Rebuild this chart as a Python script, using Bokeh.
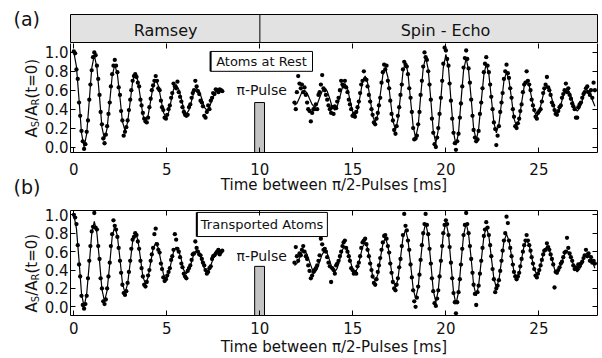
from bokeh.plotting import figure
from bokeh.models import Range1d, LinearAxis, Span, FixedTicker, PrintfTickFormatter
from bokeh.layouts import column, row
from bokeh.embed import file_html
from bokeh.resources import INLINE
from bokeh.core.properties import value

# ---------------------------------------------------------------- data
x_ticks = [0, 5, 10, 15, 20, 25]
y_ticks = [0.0, 0.2, 0.4, 0.6, 0.8, 1.0]
section_names = ["Ramsey", "Spin - Echo"]
section_centers = [4.93, 19.98]
section_split = 10.0
pulse_time = [9.72, 10.25]
pulse_height_a = 0.47
pulse_height_b = 0.44

# measurement times [ms]
ramsey_t = [
    0.00, 0.07, 0.14, 0.21, 0.28, 0.34, 0.41, 0.48, 0.55, 0.62, 0.69, 0.76, 0.83, 0.89, 0.96, 1.03,
    1.10, 1.17, 1.24, 1.31, 1.38, 1.44, 1.51, 1.58, 1.65, 1.72, 1.79, 1.86, 1.93, 1.99, 2.06, 2.13,
    2.20, 2.27, 2.34, 2.41, 2.48, 2.54, 2.61, 2.68, 2.75, 2.82, 2.89, 2.96, 3.03, 3.09, 3.16, 3.23,
    3.30, 3.37, 3.44, 3.51, 3.58, 3.64, 3.71, 3.78, 3.85, 3.92, 3.99, 4.06, 4.13, 4.19, 4.26, 4.33,
    4.40, 4.47, 4.54, 4.61, 4.68, 4.74, 4.81, 4.88, 4.95, 5.02, 5.09, 5.16, 5.23, 5.29, 5.36, 5.43,
    5.50, 5.57, 5.64, 5.71, 5.78, 5.84, 5.91, 5.98, 6.05, 6.12, 6.19, 6.26, 6.33, 6.39, 6.46, 6.53,
    6.60, 6.67, 6.74, 6.81, 6.88, 6.94, 7.01, 7.08, 7.15, 7.22, 7.29, 7.36, 7.43, 7.49, 7.56, 7.63,
    7.70, 7.77, 7.84, 7.91, 7.98]

echo_t = [
    11.86, 11.93, 11.99, 12.06, 12.13, 12.20, 12.26, 12.33, 12.40, 12.47, 12.54, 12.60, 12.67, 12.74, 12.81, 12.88,
    12.94, 13.01, 13.08, 13.15, 13.21, 13.28, 13.35, 13.42, 13.49, 13.55, 13.62, 13.69, 13.76, 13.83, 13.89, 13.96,
    14.03, 14.10, 14.16, 14.23, 14.30, 14.37, 14.44, 14.50, 14.57, 14.64, 14.71, 14.78, 14.84, 14.91, 14.98, 15.05,
    15.11, 15.18, 15.25, 15.32, 15.39, 15.45, 15.52, 15.59, 15.66, 15.73, 15.79, 15.86, 15.93, 16.00, 16.06, 16.13,
    16.20, 16.27, 16.34, 16.40, 16.47, 16.54, 16.61, 16.68, 16.74, 16.81, 16.88, 16.95, 17.01, 17.08, 17.15, 17.22,
    17.29, 17.35, 17.42, 17.49, 17.56, 17.63, 17.69, 17.76, 17.83, 17.90, 17.96, 18.03, 18.10, 18.17, 18.24, 18.30,
    18.37, 18.44, 18.51, 18.58, 18.64, 18.71, 18.78, 18.85, 18.91, 18.98, 19.05, 19.12, 19.19, 19.25, 19.32, 19.39,
    19.46, 19.53, 19.59, 19.66, 19.73, 19.80, 19.86, 19.93, 20.00, 20.07, 20.14, 20.20, 20.27, 20.34, 20.41, 20.48,
    20.54, 20.61, 20.68, 20.75, 20.81, 20.88, 20.95, 21.02, 21.09, 21.15, 21.22, 21.29, 21.36, 21.43, 21.49, 21.56,
    21.63, 21.70, 21.76, 21.83, 21.90, 21.97, 22.04, 22.10, 22.17, 22.24, 22.31, 22.38, 22.44, 22.51, 22.58, 22.65,
    22.71, 22.78, 22.85, 22.92, 22.99, 23.05, 23.12, 23.19, 23.26, 23.33, 23.39, 23.46, 23.53, 23.60, 23.66, 23.73,
    23.80, 23.87, 23.94, 24.00, 24.07, 24.14, 24.21, 24.28, 24.34, 24.41, 24.48, 24.55, 24.61, 24.68, 24.75, 24.82,
    24.89, 24.95, 25.02, 25.09, 25.16, 25.23, 25.29, 25.36, 25.43, 25.50, 25.56, 25.63, 25.70, 25.77, 25.84, 25.90,
    25.97, 26.04, 26.11, 26.18, 26.24, 26.31, 26.38, 26.45, 26.51, 26.58, 26.65, 26.72, 26.79, 26.85, 26.92, 26.99,
    27.06, 27.12, 27.19, 27.26, 27.33, 27.40, 27.46, 27.53, 27.60, 27.67, 27.74, 27.80, 27.87, 27.94, 28.01]

# fitted curves are given at every second measurement time
ramsey_fit_t = ramsey_t[::2]
echo_fit_t = echo_t[::2]

# (a) atoms at rest
a_ramsey_dots = [
    1.01, 0.99, 0.82, 0.72, 0.47, 0.33, 0.17, 0.06, -0.02, 0.03, 0.16, 0.28, 0.50, 0.66, 0.81, 0.95,
    1.00, 0.97, 0.86, 0.72, 0.55, 0.37, 0.24, 0.09, 0.04, 0.13, 0.22, 0.35, 0.47, 0.64, 0.77, 0.86,
    0.92, 0.86, 0.79, 0.63, 0.55, 0.38, 0.28, 0.12, 0.16, 0.21, 0.28, 0.39, 0.50, 0.60, 0.70, 0.75,
    0.77, 0.74, 0.68, 0.64, 0.50, 0.44, 0.36, 0.30, 0.27, 0.26, 0.31, 0.42, 0.51, 0.60, 0.65, 0.70,
    0.75, 0.70, 0.62, 0.60, 0.49, 0.42, 0.39, 0.31, 0.30, 0.34, 0.40, 0.44, 0.52, 0.57, 0.67, 0.64,
    0.62, 0.69, 0.58, 0.53, 0.48, 0.42, 0.37, 0.34, 0.33, 0.34, 0.42, 0.45, 0.52, 0.57, 0.60, 0.70,
    0.64, 0.59, 0.56, 0.49, 0.47, 0.43, 0.33, 0.31, 0.37, 0.44, 0.40, 0.49, 0.52, 0.57, 0.56, 0.61,
    0.60, 0.58, 0.61, 0.60, 0.59]

a_ramsey_fit = [
    1.00, 0.85, 0.50, 0.15, 0.00, 0.14, 0.49, 0.83,
    0.97, 0.84, 0.53, 0.21, 0.08, 0.20, 0.48, 0.75,
    0.87, 0.77, 0.52, 0.27, 0.17, 0.26, 0.48, 0.69,
    0.78, 0.70, 0.52, 0.34, 0.26, 0.33, 0.49, 0.64,
    0.71, 0.65, 0.51, 0.37, 0.31, 0.36, 0.49, 0.61,
    0.66, 0.61, 0.51, 0.40, 0.35, 0.39, 0.49, 0.58,
    0.62, 0.59, 0.51, 0.42, 0.39, 0.42, 0.50, 0.57,
    0.60, 0.59, 0.58]

a_echo_dots = [
    0.47, 0.40, 0.58, 0.75, 0.67, 0.62, 0.66, 0.58, 0.63, 0.55, 0.47, 0.40, 0.38, 0.27, 0.36, 0.40,
    0.40, 0.45, 0.40, 0.55, 0.58, 0.66, 0.76, 0.62, 0.60, 0.55, 0.50, 0.44, 0.40, 0.36, 0.42, 0.35,
    0.43, 0.41, 0.48, 0.52, 0.60, 0.70, 0.66, 0.64, 0.70, 0.63, 0.58, 0.50, 0.45, 0.40, 0.33, 0.35,
    0.32, 0.37, 0.42, 0.48, 0.57, 0.66, 0.70, 0.80, 0.72, 0.71, 0.64, 0.55, 0.48, 0.40, 0.34, 0.26,
    0.24, 0.30, 0.36, 0.44, 0.52, 0.68, 0.79, 0.87, 0.82, 0.86, 0.70, 0.62, 0.49, 0.35, 0.28, 0.18,
    0.14, 0.22, 0.33, 0.42, 0.55, 0.66, 0.82, 0.90, 0.87, 0.85, 0.77, 0.62, 0.52, 0.37, 0.20, 0.08,
    0.09, 0.12, 0.24, 0.37, 0.55, 0.70, 0.85, 1.00, 0.95, 0.92, 0.80, 0.66, 0.50, 0.30, 0.15, 0.03,
    0.00, 0.10, 0.20, 0.35, 0.52, 0.70, 0.88, 1.05, 1.02, 0.93, 0.86, 0.67, 0.49, 0.30, 0.15, 0.04,
    -0.03, 0.06, 0.14, 0.31, 0.46, 0.64, 0.84, 0.94, 1.02, 0.93, 0.83, 0.68, 0.50, 0.33, 0.18, 0.10,
    0.06, 0.08, 0.17, 0.35, 0.47, 0.62, 0.79, 0.88, 0.95, 0.86, 0.79, 0.66, 0.53, 0.40, 0.26, 0.19,
    0.02, 0.12, 0.22, 0.37, 0.47, 0.57, 0.72, 0.80, 0.87, 0.78, 0.73, 0.62, 0.52, 0.40, 0.32, 0.22,
    0.20, 0.25, 0.30, 0.38, 0.45, 0.58, 0.66, 0.68, 0.80, 0.70, 0.66, 0.60, 0.50, 0.44, 0.39, 0.32,
    0.30, 0.36, 0.38, 0.40, 0.48, 0.57, 0.62, 0.66, 0.74, 0.63, 0.60, 0.55, 0.47, 0.44, 0.39, 0.35,
    0.34, 0.38, 0.42, 0.44, 0.52, 0.56, 0.60, 0.67, 0.58, 0.62, 0.55, 0.51, 0.46, 0.43, 0.40, 0.31,
    0.31, 0.42, 0.45, 0.47, 0.52, 0.56, 0.58, 0.62, 0.64, 0.58, 0.55, 0.60, 0.52, 0.68, 0.60]

a_echo_fit = [
    0.44, 0.46, 0.52, 0.58, 0.60, 0.57, 0.51, 0.45,
    0.42, 0.45, 0.52, 0.59, 0.62, 0.59, 0.51, 0.42,
    0.39, 0.43, 0.53, 0.63, 0.67, 0.62, 0.50, 0.38,
    0.33, 0.39, 0.54, 0.69, 0.75, 0.68, 0.51, 0.33,
    0.26, 0.34, 0.55, 0.76, 0.84, 0.74, 0.51, 0.28,
    0.18, 0.29, 0.54, 0.79, 0.90, 0.78, 0.50, 0.22,
    0.10, 0.22, 0.53, 0.83, 0.95, 0.82, 0.50, 0.17,
    0.04, 0.18, 0.51, 0.84, 0.98, 0.84, 0.50, 0.16,
    0.02, 0.15, 0.48, 0.81, 0.94, 0.81, 0.51, 0.20,
    0.07, 0.19, 0.48, 0.76, 0.88, 0.77, 0.52, 0.26,
    0.15, 0.24, 0.47, 0.70, 0.79, 0.71, 0.51, 0.30,
    0.22, 0.29, 0.47, 0.64, 0.71, 0.65, 0.52, 0.38,
    0.32, 0.37, 0.49, 0.60, 0.65, 0.61, 0.51, 0.40,
    0.36, 0.40, 0.49, 0.58, 0.62, 0.58, 0.50, 0.42,
    0.38, 0.41, 0.49, 0.57, 0.60, 0.57, 0.50, 0.43]

# (b) transported atoms
b_ramsey_dots = [
    1.00, 0.97, 0.90, 0.67, 0.46, 0.33, 0.12, 0.02, -0.02, 0.03, 0.12, 0.31, 0.50, 0.66, 0.82, 0.87,
    1.02, 0.86, 0.84, 0.66, 0.52, 0.31, 0.20, 0.06, 0.03, 0.08, 0.20, 0.33, 0.48, 0.66, 0.79, 0.94,
    0.88, 0.84, 0.76, 0.64, 0.50, 0.37, 0.24, 0.15, 0.13, 0.17, 0.26, 0.38, 0.50, 0.63, 0.73, 0.76,
    0.80, 0.78, 0.71, 0.63, 0.50, 0.42, 0.33, 0.24, 0.22, 0.27, 0.34, 0.40, 0.50, 0.57, 0.64, 0.79,
    0.85, 0.68, 0.62, 0.59, 0.47, 0.41, 0.32, 0.28, 0.30, 0.34, 0.38, 0.42, 0.51, 0.55, 0.62, 0.79,
    0.73, 0.63, 0.60, 0.54, 0.47, 0.43, 0.36, 0.33, 0.31, 0.39, 0.42, 0.45, 0.51, 0.57, 0.58, 0.71,
    0.64, 0.60, 0.57, 0.56, 0.52, 0.48, 0.45, 0.40, 0.36, 0.38, 0.42, 0.44, 0.52, 0.55, 0.56, 0.58,
    0.60, 0.62, 0.57, 0.60, 0.61]

b_ramsey_fit = [
    1.00, 0.85, 0.50, 0.15, 0.00, 0.14, 0.47, 0.79,
    0.93, 0.80, 0.50, 0.19, 0.06, 0.18, 0.47, 0.76,
    0.88, 0.77, 0.52, 0.26, 0.15, 0.25, 0.48, 0.71,
    0.81, 0.73, 0.53, 0.33, 0.25, 0.32, 0.48, 0.63,
    0.70, 0.64, 0.50, 0.36, 0.30, 0.35, 0.48, 0.60,
    0.65, 0.61, 0.51, 0.40, 0.36, 0.40, 0.49, 0.58,
    0.62, 0.58, 0.50, 0.42, 0.38, 0.41, 0.49, 0.57,
    0.60, 0.59, 0.58]

b_echo_dots = [
    0.48, 0.65, 0.55, 0.50, 0.58, 0.56, 0.62, 0.66, 0.60, 0.55, 0.52, 0.45, 0.39, 0.31, 0.34, 0.38,
    0.40, 0.42, 0.45, 0.50, 0.56, 0.74, 0.68, 0.62, 0.63, 0.60, 0.54, 0.48, 0.44, 0.27, 0.42, 0.40,
    0.36, 0.45, 0.47, 0.50, 0.55, 0.60, 0.66, 0.70, 0.72, 0.64, 0.60, 0.55, 0.50, 0.42, 0.40, 0.36,
    0.38, 0.36, 0.44, 0.48, 0.55, 0.64, 0.70, 0.72, 0.74, 0.68, 0.62, 0.55, 0.47, 0.40, 0.33, 0.26,
    0.24, 0.30, 0.38, 0.45, 0.53, 0.62, 0.70, 0.77, 0.78, 0.74, 0.66, 0.59, 0.47, 0.37, 0.27, 0.20,
    0.18, 0.24, 0.31, 0.43, 0.52, 0.66, 0.78, 1.01, 0.88, 0.83, 0.72, 0.62, 0.46, 0.32, 0.18, 0.06,
    0.00, 0.10, 0.22, 0.35, 0.51, 0.67, 0.80, 0.90, 1.01, 0.89, 0.79, 0.63, 0.47, 0.31, 0.17, 0.04,
    0.01, 0.09, 0.18, 0.33, 0.50, 0.66, 0.80, 0.89, 0.94, 0.90, 0.78, 0.65, 0.48, 0.31, 0.15, 0.05,
    -0.07, 0.05, 0.16, 0.30, 0.46, 0.63, 0.78, 0.89, 1.02, 0.90, 0.80, 0.66, 0.52, 0.37, 0.24, 0.14,
    0.02, 0.16, 0.23, 0.36, 0.50, 0.64, 0.77, 0.84, 0.92, 0.86, 0.78, 0.67, 0.55, 0.41, 0.30, 0.16,
    0.20, 0.23, 0.29, 0.39, 0.50, 0.61, 0.72, 0.80, 0.98, 0.91, 0.72, 0.64, 0.55, 0.46, 0.38, 0.33,
    0.30, 0.33, 0.37, 0.44, 0.52, 0.60, 0.67, 0.72, 0.78, 0.72, 0.67, 0.61, 0.54, 0.47, 0.41, 0.34,
    0.32, 0.36, 0.40, 0.45, 0.51, 0.57, 0.61, 0.62, 0.69, 0.65, 0.62, 0.57, 0.52, 0.46, 0.21, 0.38,
    0.37, 0.40, 0.43, 0.47, 0.49, 0.54, 0.59, 0.60, 0.75, 0.64, 0.58, 0.54, 0.50, 0.45, 0.41, 0.43,
    0.41, 0.46, 0.44, 0.47, 0.49, 0.53, 0.56, 0.62, 0.55, 0.58, 0.50, 0.54, 0.48, 0.50, 0.47]

b_echo_fit = [
    0.45, 0.47, 0.53, 0.59, 0.61, 0.57, 0.49, 0.41,
    0.37, 0.41, 0.49, 0.57, 0.61, 0.58, 0.50, 0.41,
    0.38, 0.42, 0.52, 0.62, 0.66, 0.62, 0.52, 0.41,
    0.37, 0.42, 0.54, 0.65, 0.70, 0.64, 0.49, 0.34,
    0.28, 0.35, 0.52, 0.68, 0.75, 0.67, 0.48, 0.29,
    0.21, 0.30, 0.53, 0.75, 0.84, 0.73, 0.47, 0.20,
    0.09, 0.21, 0.50, 0.79, 0.91, 0.78, 0.48, 0.18,
    0.05, 0.18, 0.49, 0.79, 0.92, 0.79, 0.48, 0.16,
    0.03, 0.16, 0.47, 0.78, 0.91, 0.79, 0.52, 0.24,
    0.12, 0.23, 0.50, 0.76, 0.87, 0.77, 0.54, 0.31,
    0.21, 0.29, 0.50, 0.71, 0.79, 0.72, 0.55, 0.38,
    0.31, 0.37, 0.52, 0.67, 0.73, 0.67, 0.54, 0.41,
    0.35, 0.40, 0.51, 0.61, 0.66, 0.62, 0.52, 0.41,
    0.37, 0.41, 0.49, 0.57, 0.61, 0.58, 0.50, 0.41,
    0.38, 0.41, 0.49, 0.56, 0.59, 0.56, 0.49, 0.42]

assert len(ramsey_t) == len(a_ramsey_dots) == len(b_ramsey_dots) == 117
assert len(echo_t) == len(a_echo_dots) == len(b_echo_dots) == 239
assert len(ramsey_fit_t) == len(a_ramsey_fit) == len(b_ramsey_fit)
assert len(echo_fit_t) == len(a_echo_fit) == len(b_echo_fit)

# ---------------------------------------------------------------- style / layout
FONT = "DejaVu Sans"
INK = "#111111"
LW = 41            # width of the left label strip
MW = 561           # width of the plot column
PAGE_H = 358
LEFT = 29
RIGHT = 5
xr = Range1d(-0.18, 28.15)


def style_axis(ax, labels=True, standoff=3):
    ax.major_tick_in = 5
    ax.major_tick_out = 0
    ax.minor_tick_line_color = None
    ax.axis_line_color = "black"
    ax.major_tick_line_color = "black"
    if labels:
        ax.major_label_text_font = FONT
        ax.major_label_text_font_size = "15px"
        ax.major_label_text_color = INK
        ax.major_label_standoff = standoff
    else:
        ax.major_label_text_font_size = "0px"
        ax.major_label_text_color = None
        ax.major_label_standoff = 0


def panel(height, top, bottom, yr, tick_standoff, title_standoff, r_dots, r_fit, e_dots, e_fit,
          pulse_h, box, box_text, pulse_y, top_line):
    p = figure(width=MW, height=height, x_range=xr, y_range=yr, output_backend="svg",
               toolbar_location=None, min_border_left=LEFT, min_border_right=RIGHT,
               min_border_top=top, min_border_bottom=bottom)
    p.outline_line_color = None
    p.grid.visible = False
    p.background_fill_color = "white"
    p.border_fill_color = "white"
    p.xaxis.ticker = FixedTicker(ticks=x_ticks, minor_ticks=[])
    p.yaxis.ticker = FixedTicker(ticks=y_ticks, minor_ticks=[])
    p.yaxis.formatter = PrintfTickFormatter(format="%.1f")
    style_axis(p.xaxis[0], True, tick_standoff)
    style_axis(p.yaxis[0], True, 2)
    bx = p.xaxis[0]
    bx.axis_label = "Time between \u03c0/2-Pulses [ms]"
    bx.axis_label_text_font = FONT
    bx.axis_label_text_font_size = "15px"
    bx.axis_label_text_font_style = "normal"
    bx.axis_label_text_color = INK
    bx.axis_label_standoff = title_standoff

    tax = LinearAxis(ticker=FixedTicker(ticks=x_ticks, minor_ticks=[]))
    style_axis(tax, False)
    if not top_line:
        tax.axis_line_color = None
    p.add_layout(tax, "above")
    rax = LinearAxis(ticker=FixedTicker(ticks=y_ticks, minor_ticks=[]))
    style_axis(rax, False)
    p.add_layout(rax, "right")

    # pi pulse bar
    p.quad(left=[pulse_time[0]], right=[pulse_time[1]], bottom=[-0.3], top=[pulse_h],
           fill_color="#c3c3c3", line_color="black", line_width=1)
    p.text(x=[10.1], y=[pulse_y], text=["\u03c0-Pulse"], text_font=value(FONT),
           text_font_size="14px", text_align="center", text_baseline="middle", text_color=INK)

    # label box (slightly heavier left edge, as in the original)
    p.quad(left=[box[0]], right=[box[1]], bottom=[box[2]], top=[box[3]],
           fill_color="white", line_color="black", line_width=1)
    p.segment(x0=[box[0]], y0=[box[2]], x1=[box[0]], y1=[box[3]], line_color="black",
              line_width=2)
    p.text(x=[(box[0] + box[1]) / 2], y=[(box[2] + box[3]) / 2], text=[box_text],
           text_font=value(FONT), text_font_size="13px", text_align="center",
           text_baseline="middle", text_color=INK)

    # fits and data
    p.line(ramsey_fit_t, r_fit, line_color="black", line_width=1.2)
    p.line(echo_fit_t, e_fit, line_color="black", line_width=1.2)
    p.scatter(ramsey_t, r_dots, size=4.3, fill_color="black", line_color=None)
    p.scatter(echo_t, e_dots, size=4.3, fill_color="black", line_color=None)
    return p


# header row
h = figure(width=MW, height=43, x_range=xr, y_range=Range1d(0, 1), x_axis_type=None,
           y_axis_type=None, output_backend="svg", toolbar_location=None,
           min_border_left=LEFT, min_border_right=RIGHT, min_border_top=14, min_border_bottom=0)
h.background_fill_color = "#e2e2e2"
h.border_fill_color = "white"
h.outline_line_color = "black"
h.add_layout(Span(location=section_split, dimension="height", line_color="black", line_width=1))
h.text(x=section_centers, y=[0.45, 0.45], text=section_names, text_font=value(FONT),
       text_font_size="16px", text_align="center", text_baseline="middle", text_color=INK)

pa = panel(153, 0, 43, Range1d(-0.058, 1.094), 10, -2, a_ramsey_dots, a_ramsey_fit,
           a_echo_dots, a_echo_fit, pulse_height_a, (7.35, 12.83, 0.80, 1.01),
           "Atoms at Rest", 0.60, False)

pb = panel(162, 14, 39, Range1d(-0.094, 1.047), 6, 1, b_ramsey_dots, b_ramsey_fit,
           b_echo_dots, b_echo_fit, pulse_height_b, (6.61, 13.63, 0.764, 1.026),
           "Transported Atoms", 0.55, True)

# left strip: panel letters and rotated y-axis titles (pixel coordinates, y upward)
lf = figure(width=LW, height=PAGE_H, x_range=Range1d(0, LW), y_range=Range1d(0, PAGE_H),
            x_axis_type=None, y_axis_type=None, output_backend="svg", toolbar_location=None,
            min_border=0, outline_line_color=None)
lf.grid.visible = False
lf.text(x=[13, 13], y=[PAGE_H - 18.5, PAGE_H - 186.5], text=["(a)", "(b)"], text_font=value(FONT),
        text_font_size="19px", text_align="left", text_baseline="middle", text_color=INK)

for y0 in (PAGE_H - 137, PAGE_H - 312):
    lf.text(x=[31.5, 31.5, 31.5], y=[y0, y0 + 16.7, y0 + 39.0], text=["A", "/A", "(t=0)"],
            angle=1.5707963, text_font=value(FONT), text_font_size="15px",
            text_align="left", text_baseline="alphabetic", text_color=INK)
    lf.text(x=[34.5, 34.5], y=[y0 + 10.3, y0 + 32.0], text=["S", "R"],
            angle=1.5707963, text_font=value(FONT), text_font_size="10px",
            text_align="left", text_baseline="alphabetic", text_color=INK)

layout = row(lf, column(h, pa, pb, spacing=0), spacing=0)
open("out.html", "w").write(file_html(layout, INLINE))
